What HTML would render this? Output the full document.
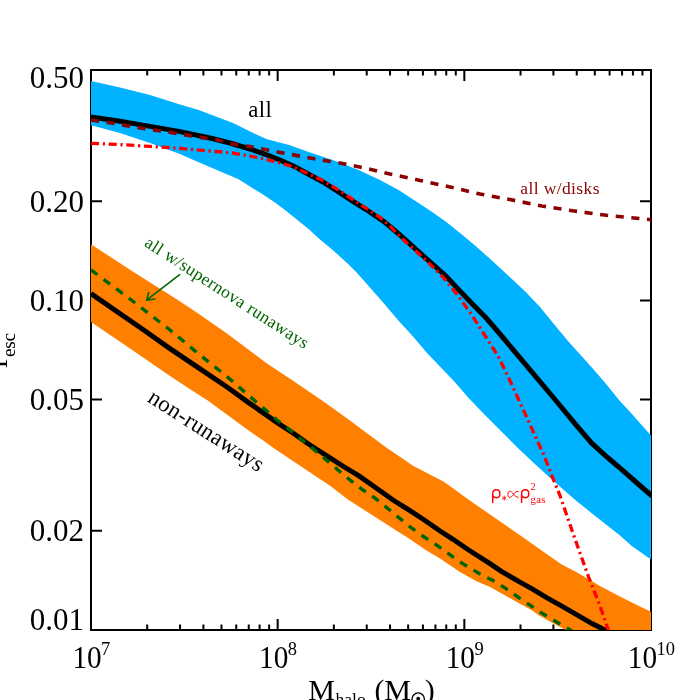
<!DOCTYPE html>
<html><head><meta charset="utf-8"><title>f_esc vs M_halo</title>
<style>html,body{margin:0;padding:0;background:#fff;overflow:hidden}svg{display:block;will-change:transform}</style>
</head><body>
<svg width="700" height="700" viewBox="0 0 700 700">
<rect width="700" height="700" fill="#fff"/>
<clipPath id="c"><rect x="91" y="70" width="560" height="560"/></clipPath>
<rect x="91" y="70" width="560" height="560" fill="none" stroke="#000" stroke-width="2"/>
<path d="M147.19 630.0 v-5.5 M147.19 70.0 v5.5" stroke="#000" stroke-width="2"/>
<path d="M180.06 630.0 v-5.5 M180.06 70.0 v5.5" stroke="#000" stroke-width="2"/>
<path d="M203.38 630.0 v-5.5 M203.38 70.0 v5.5" stroke="#000" stroke-width="2"/>
<path d="M221.47 630.0 v-5.5 M221.47 70.0 v5.5" stroke="#000" stroke-width="2"/>
<path d="M236.25 630.0 v-5.5 M236.25 70.0 v5.5" stroke="#000" stroke-width="2"/>
<path d="M248.75 630.0 v-5.5 M248.75 70.0 v5.5" stroke="#000" stroke-width="2"/>
<path d="M259.58 630.0 v-5.5 M259.58 70.0 v5.5" stroke="#000" stroke-width="2"/>
<path d="M269.13 630.0 v-5.5 M269.13 70.0 v5.5" stroke="#000" stroke-width="2"/>
<path d="M277.67 630.0 v-11 M277.67 70.0 v11" stroke="#000" stroke-width="2"/>
<path d="M333.86 630.0 v-5.5 M333.86 70.0 v5.5" stroke="#000" stroke-width="2"/>
<path d="M366.73 630.0 v-5.5 M366.73 70.0 v5.5" stroke="#000" stroke-width="2"/>
<path d="M390.05 630.0 v-5.5 M390.05 70.0 v5.5" stroke="#000" stroke-width="2"/>
<path d="M408.14 630.0 v-5.5 M408.14 70.0 v5.5" stroke="#000" stroke-width="2"/>
<path d="M422.92 630.0 v-5.5 M422.92 70.0 v5.5" stroke="#000" stroke-width="2"/>
<path d="M435.42 630.0 v-5.5 M435.42 70.0 v5.5" stroke="#000" stroke-width="2"/>
<path d="M446.24 630.0 v-5.5 M446.24 70.0 v5.5" stroke="#000" stroke-width="2"/>
<path d="M455.79 630.0 v-5.5 M455.79 70.0 v5.5" stroke="#000" stroke-width="2"/>
<path d="M464.33 630.0 v-11 M464.33 70.0 v11" stroke="#000" stroke-width="2"/>
<path d="M520.53 630.0 v-5.5 M520.53 70.0 v5.5" stroke="#000" stroke-width="2"/>
<path d="M553.40 630.0 v-5.5 M553.40 70.0 v5.5" stroke="#000" stroke-width="2"/>
<path d="M576.72 630.0 v-5.5 M576.72 70.0 v5.5" stroke="#000" stroke-width="2"/>
<path d="M594.81 630.0 v-5.5 M594.81 70.0 v5.5" stroke="#000" stroke-width="2"/>
<path d="M609.59 630.0 v-5.5 M609.59 70.0 v5.5" stroke="#000" stroke-width="2"/>
<path d="M622.08 630.0 v-5.5 M622.08 70.0 v5.5" stroke="#000" stroke-width="2"/>
<path d="M632.91 630.0 v-5.5 M632.91 70.0 v5.5" stroke="#000" stroke-width="2"/>
<path d="M642.46 630.0 v-5.5 M642.46 70.0 v5.5" stroke="#000" stroke-width="2"/>
<path d="M91.0 530.78 h11 M651.0 530.78 h-11" stroke="#000" stroke-width="2"/>
<path d="M91.0 399.61 h11 M651.0 399.61 h-11" stroke="#000" stroke-width="2"/>
<path d="M91.0 300.39 h11 M651.0 300.39 h-11" stroke="#000" stroke-width="2"/>
<path d="M91.0 201.17 h11 M651.0 201.17 h-11" stroke="#000" stroke-width="2"/>
<g clip-path="url(#c)">
<polygon points="90.0,80.7 120.0,87.6 150.0,95.0 180.0,104.4 198.6,110.0 233.0,123.0 254.3,133.6 267.0,139.3 290.0,145.3 308.6,152.0 337.0,161.4 358.6,170.0 380.0,180.0 398.6,190.0 417.0,202.0 431.4,211.4 445.7,221.4 460.0,232.9 475.0,245.5 491.4,260.0 511.4,278.6 525.7,292.0 540.0,307.0 553.0,323.0 567.1,340.0 591.4,367.0 605.7,383.6 618.6,399.5 631.4,413.6 652.0,436.5 652.0,560.3 645.7,555.7 631.4,545.7 620.0,535.5 605.7,524.3 591.4,512.9 577.0,501.4 563.0,489.3 548.6,476.4 534.3,463.6 520.0,450.0 511.4,441.4 497.0,427.0 483.0,412.9 468.6,397.9 454.3,381.4 441.4,368.0 427.0,352.9 413.0,336.4 398.6,320.7 381.4,300.5 368.6,286.0 355.7,271.4 347.0,262.9 333.0,250.3 318.6,238.3 308.6,229.0 294.3,217.5 284.3,209.5 275.7,203.0 261.4,193.6 238.6,179.3 218.6,170.7 190.0,158.6 180.0,154.0 150.0,143.0 120.0,133.0 90.0,125.0" fill="#00b2ff"/>
<polygon points="90.0,243.6 130.0,269.8 178.6,300.5 198.6,313.8 227.0,333.6 250.0,350.7 267.0,363.6 293.0,380.7 321.4,400.0 350.0,420.5 358.6,427.0 387.0,447.9 413.0,465.7 427.0,472.9 444.3,482.0 467.0,498.6 488.6,513.5 518.6,534.3 547.0,554.3 561.4,564.3 575.7,571.8 590.0,580.0 600.0,586.0 620.0,596.4 640.0,606.4 652.0,612.3 652.0,634.0 575.0,634.0 566.0,630.0 560.0,627.0 540.0,616.0 531.4,610.0 518.6,602.9 504.3,595.0 490.0,587.0 476.0,581.0 460.0,572.0 440.0,558.5 425.7,550.0 410.0,539.3 348.6,500.0 330.0,485.7 275.7,449.4 264.3,441.2 250.0,431.4 207.0,400.0 198.6,394.8 170.0,376.0 130.0,348.6 90.0,321.3" fill="#ff8000"/>
<path d="M91.0 116.9 L120.0 121.2 L150.0 126.4 L180.0 131.6 L210.0 138.0 L230.0 143.0 L250.0 149.0 L270.0 156.0 L280.0 160.0 L294.3 166.4 L308.6 174.3 L323.0 182.0 L337.0 191.0 L351.4 200.3 L365.7 209.3 L380.0 219.0 L384.3 221.8 L400.0 235.0 L414.3 247.9 L428.6 260.7 L445.7 275.7 L457.0 287.9 L471.4 302.9 L485.7 317.5 L497.0 330.5 L520.0 357.8 L555.0 399.5 L574.3 422.9 L591.4 442.9 L607.0 457.0 L623.0 470.7 L637.0 483.0 L652.0 496.0" fill="none" stroke="#000" stroke-width="5"/>
<path d="M91.0 293.6 L143.7 330.0 L170.0 348.6 L198.6 367.9 L227.0 387.0 L250.0 403.6 L264.3 413.6 L278.6 423.6 L293.0 433.0 L307.0 443.0 L318.6 450.5 L330.0 457.9 L344.3 467.0 L358.6 475.7 L373.0 485.7 L393.0 500.0 L410.0 510.7 L424.3 520.0 L438.6 530.0 L453.0 539.3 L468.6 550.0 L490.0 563.6 L501.4 571.4 L518.6 581.4 L533.0 589.3 L547.0 597.9 L561.4 605.9 L580.0 616.6 L592.0 623.6 L606.0 630.5" fill="none" stroke="#000" stroke-width="5"/>
<path d="M91.0 120.0 L110.0 122.8 L140.0 128.0 L172.0 132.6 L202.0 137.6 L220.0 140.4 L230.0 143.6 L250.0 146.6 L280.0 152.4 L310.0 158.0 L340.0 163.0 L370.0 169.2 L390.0 174.0 L420.0 180.4 L450.0 187.0 L480.0 194.0 L510.0 199.6 L542.0 206.0 L574.3 211.0 L606.4 215.3 L652.0 219.8" fill="none" stroke="#8b0000" stroke-width="3.6" stroke-dasharray="8.1 7.6"/>
<path d="M91.0 269.9 L130.0 299.0 L170.0 330.0 L198.6 353.9 L227.0 376.6 L253.6 399.8 L265.7 410.0 L277.0 420.0 L290.0 430.0 L302.0 440.0 L313.6 449.3 L338.0 470.0 L350.0 480.0 L363.0 490.0 L375.7 498.6 L411.4 527.9 L424.3 537.0 L438.6 546.4 L460.0 562.0 L480.0 574.0 L492.0 580.0 L505.0 587.9 L518.0 597.0 L530.7 605.7 L540.0 612.0 L560.0 624.0 L572.0 631.0" fill="none" stroke="#006400" stroke-width="3.4" stroke-dasharray="8.1 7.6"/>
<path d="M91.0 143.3 L120.0 144.6 L150.0 146.4 L180.0 148.4 L210.0 151.0 L230.0 152.6 L250.0 156.0 L270.0 160.4 L280.0 163.0 L294.0 167.0 L308.6 174.0 L323.0 180.6 L337.0 189.2 L351.4 198.5 L365.7 207.8 L380.0 217.3 L390.0 226.0 L400.0 236.8 L414.3 249.5 L428.6 262.9 L442.9 277.0 L457.0 294.3 L471.4 314.3 L483.0 332.5 L497.0 354.3 L500.0 360.0 L507.0 374.3 L514.3 390.0 L521.4 405.7 L528.6 421.4 L537.0 440.0 L544.3 456.0 L553.0 478.6 L560.0 495.5 L567.0 516.0 L574.3 537.0 L581.4 557.0 L588.6 577.0 L600.0 606.0 L609.0 632.0" fill="none" stroke="#ff0000" stroke-width="3.3" stroke-dasharray="8.1 3.7 2.2 3.66"/>
</g>
<text x="84.00" y="630.00" text-anchor="end" font-family="Liberation Serif, serif" font-size="31">0.01</text>
<text x="84.00" y="541.28" text-anchor="end" font-family="Liberation Serif, serif" font-size="31">0.02</text>
<text x="84.00" y="410.11" text-anchor="end" font-family="Liberation Serif, serif" font-size="31">0.05</text>
<text x="84.00" y="310.89" text-anchor="end" font-family="Liberation Serif, serif" font-size="31">0.10</text>
<text x="84.00" y="211.67" text-anchor="end" font-family="Liberation Serif, serif" font-size="31">0.20</text>
<text x="84.00" y="87.50" text-anchor="end" font-family="Liberation Serif, serif" font-size="31">0.50</text>
<text x="72.40" y="668.00" textLength="29.30" lengthAdjust="spacingAndGlyphs" font-family="Liberation Serif, serif" font-size="31">10</text>
<text x="101.10" y="654.60" font-family="Liberation Serif, serif" font-size="18.5">7</text>
<text x="259.07" y="668.00" textLength="29.30" lengthAdjust="spacingAndGlyphs" font-family="Liberation Serif, serif" font-size="31">10</text>
<text x="287.77" y="654.60" font-family="Liberation Serif, serif" font-size="18.5">8</text>
<text x="445.73" y="668.00" textLength="29.30" lengthAdjust="spacingAndGlyphs" font-family="Liberation Serif, serif" font-size="31">10</text>
<text x="474.43" y="654.60" font-family="Liberation Serif, serif" font-size="18.5">9</text>
<text x="627.80" y="668.00" textLength="29.30" lengthAdjust="spacingAndGlyphs" font-family="Liberation Serif, serif" font-size="31">10</text>
<text x="656.50" y="654.60" font-family="Liberation Serif, serif" font-size="18.5">10</text>
<text x="308.30" y="700.20" font-family="Liberation Serif, serif" font-size="30">M</text>
<text x="335.60" y="705.40" font-family="Liberation Serif, serif" font-size="17.5">halo</text>
<text x="374.60" y="700.20" font-family="Liberation Serif, serif" font-size="30">(</text>
<text x="384.20" y="700.20" font-family="Liberation Serif, serif" font-size="30">M</text>
<circle cx="418.2" cy="699.1" r="6.2" fill="none" stroke="#000" stroke-width="1.3"/><circle cx="418.2" cy="698.6" r="1.9" fill="#000"/>
<text x="424.80" y="700.20" font-family="Liberation Serif, serif" font-size="30">)</text>
<text transform="translate(7.4,368.5) rotate(-90)" font-family="Liberation Serif, serif" font-size="30">f</text>
<text transform="translate(14.6,357) rotate(-90)" textLength="24.20" lengthAdjust="spacing" font-family="Liberation Serif, serif" font-size="19.3">esc</text>
<text x="248.30" y="117.00" textLength="23.60" lengthAdjust="spacing" font-family="Liberation Serif, serif" font-size="22.8">all</text>
<text x="520.30" y="193.70" textLength="79.20" lengthAdjust="spacing" fill="#8b0000" font-family="Liberation Serif, serif" font-size="17.5">all w/disks</text>
<text transform="translate(143.5,245.6) rotate(32.8)" textLength="191.20" lengthAdjust="spacing" fill="#006400" font-family="Liberation Serif, serif" font-size="17.5">all w/supernova runaways</text>
<text transform="translate(146.5,401) rotate(32.6)" textLength="132.60" lengthAdjust="spacing" font-family="Liberation Serif, serif" font-size="22.8">non-runaways</text>
<path d="M492.70 503.1 L492.70 493.9 C492.70 491.0 494.30 489.7 496.40 489.7 C498.60 489.7 499.90 491.4 499.90 493.8 C499.90 496.3 498.50 497.7 496.40 497.7 C495.00 497.7 493.50 496.9 492.70 495.4" fill="none" stroke="#ff0000" stroke-width="1.45" stroke-linecap="butt"/>
<path d="M504.3 495.6 v5.0 M502.1 496.8 l4.4 2.6 M506.5 496.8 l-4.4 2.6" stroke="#ff0000" stroke-width="0.75" fill="none"/>
<path d="M518.6 491.3 C516.2 490.9 514.8 492.8 513.4 494.7 C512.2 496.3 511.0 497.3 509.8 497.3 C508.5 497.3 507.9 495.9 507.9 494.3 C507.9 492.5 508.6 491.2 509.8 491.2 C511.0 491.2 512.2 492.2 513.4 493.9 C514.8 495.8 516.2 497.6 518.6 497.2" fill="none" stroke="#ff0000" stroke-width="1.0"/>
<path d="M521.60 503.1 L521.60 493.9 C521.60 491.0 523.20 489.7 525.30 489.7 C527.50 489.7 528.80 491.4 528.80 493.8 C528.80 496.3 527.40 497.7 525.30 497.7 C523.90 497.7 522.40 496.9 521.60 495.4" fill="none" stroke="#ff0000" stroke-width="1.45" stroke-linecap="butt"/>
<text x="530.60" y="490.40" fill="#ff0000" font-family="Liberation Serif, serif" font-size="10.3">2</text>
<text x="530.60" y="503.00" textLength="14.80" lengthAdjust="spacing" fill="#ff0000" font-family="Liberation Serif, serif" font-size="10.7">gas</text>
<path d="M179.6 274.6 L146.6 300.2 M148.6 292.6 L146.6 300.2 L154.8 299" stroke="#006400" stroke-width="1.6" fill="none" stroke-linecap="round" stroke-linejoin="round"/>
</svg>
</body></html>
